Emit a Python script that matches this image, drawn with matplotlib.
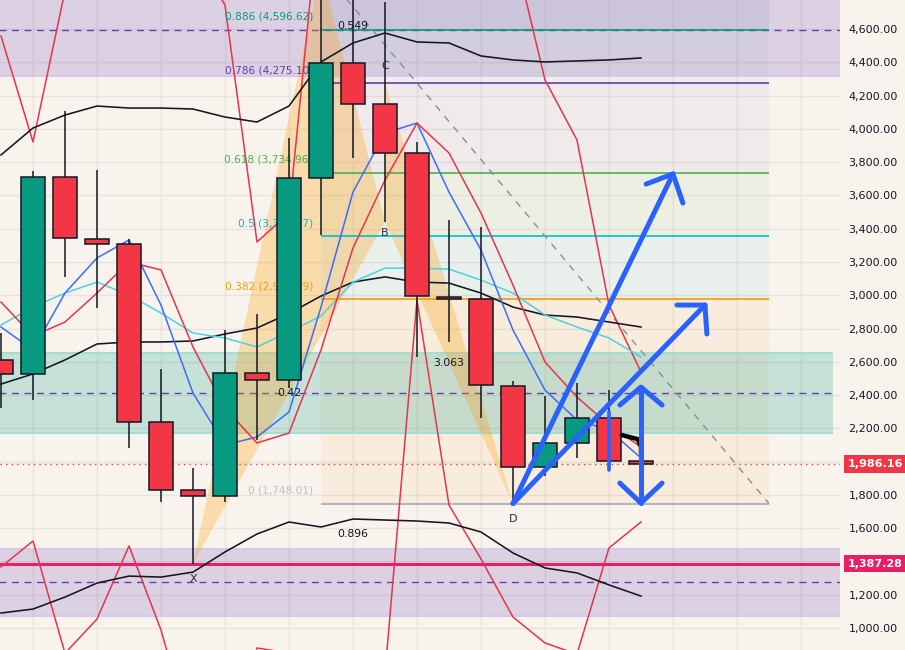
import matplotlib
matplotlib.use("Agg")
import matplotlib.pyplot as plt
import matplotlib.transforms as mtransforms
from matplotlib.patches import Rectangle, Polygon
from matplotlib.ticker import FuncFormatter

# ---------------- data ----------------
bars = list(range(21))
opens  = [2610, 2527, 3710, 3340, 3310, 2238, 1828, 1793, 2530, 2490, 3704,
          4396, 4150, 3855, 2990, 2978, 2455, 1968, 2112, 2262, 2004]
closes = [2525, 3710, 3344, 3305, 2238, 1830, 1795, 2532, 2490, 3704, 4396,
          4150, 3855, 2995, 2978, 2460, 1968, 2112, 2262, 2004, 1986.16]
highs  = [2770, 3748, 4110, 3750, 3335, 2557, 1962, 2790, 2887, 3945, 4800,
          4800, 4760, 3920, 3450, 3410, 2484, 2394, 2473, 2430, 2028]
lows   = [2322, 2370, 3110, 2925, 2080, 1757, 1387.28, 1757, 2130, 2440, 3360,
          3825, 3440, 2628, 2718, 2262, 1748.01, 1914, 2022, 1974, 1974]

bb_upper = [3843, 4005, 4083, 4137, 4125, 4125, 4119, 4071, 4041, 4137, 4402,
            4516, 4576, 4522, 4516, 4438, 4414, 4402, 4408, 4414, 4426]
bb_mid   = [2466, 2527, 2611, 2707, 2719, 2719, 2725, 2767, 2803, 2890, 2995,
            3079, 3110, 3079, 3073, 3013, 2929, 2881, 2869, 2839, 2809]
bb_lower = [1090, 1114, 1186, 1270, 1312, 1306, 1336, 1457, 1565, 1637, 1607,
            1655, 1649, 1643, 1631, 1577, 1451, 1361, 1331, 1259, 1192]
ma_blue  = [2809, 2671, 3013, 3224, 3332, 2941, 2412, 2100, 2148, 2298, 2929,
            3620, 3975, 4035, 3620, 3272, 2791, 2430, 2250, 2190, 2022]
ma_cyan  = [2821, 2929, 3013, 3079, 3001, 2893, 2773, 2743, 2689, 2779, 2875,
            3079, 3163, 3163, 3157, 3091, 3013, 2881, 2809, 2743, 2629]
ma_red   = [2959, 2755, 2839, 3013, 3200, 3152, 2689, 2322, 2112, 2172, 2671,
            3284, 3692, 4035, 3855, 3494, 3061, 2599, 2388, 2220, 2088]
env_upper = [4558, 3921, 4830, 4972, 4907, 5316, 5075, 4744, 3320, 3494, 5424,
             6000, 6660, 5099, 5971, 5573, 5100, 4294, 3933, 2941, 2539]
env_lower = [1367, 1523, 848, 1054, 1493, 988, 303, -100, 880, 850, -82,
             568, 724, 2971, 1739, 1415, 1066, 910, 843, 1481, 1637]

# Fibonacci retracement (drawn from A to D)
fib_start, fib_end = 10, 24
fib_low, fib_high = 1748.01, 4963.14
fib_levels = [0, 0.382, 0.5, 0.618, 0.786, 0.886, 1]
fib_colors = ['#b2b5be', '#ff9800', '#00bcd4', '#4caf50', '#673ab7', '#089981', '#7e93b0']
fib_alpha  = [None, 0.07, 0.06, 0.06, 0.05, 0.04, 0.16]

# XABCD pattern
pat_x = [6, 10, 12, 12, 16]
pat_p = [1387.28, 4963.14, 3440, 4275, 1748.01]
pat_names = ['X', 'A', 'B', 'C', 'D']
pat_ratios = [('0.42', 0, 2), ('0.549', 1, 3), ('3.063', 2, 4), ('0.896', 0, 4)]

# rectangles (zones): (bottom, top, right bar or None, fill, alpha, edge)
zones = [(4318, 4874, None, '#673ab7', 0.19, '#d5c8e8'),
         (1072, 1475, None, '#673ab7', 0.19, '#d5c8e8'),
         (2172, 2653, 26.0, '#009688', 0.20, '#a3ded5')]

support_price = 1387.28
last_price = 1986.16

# user drawings (bar, price)
arrow_up_1 = [(16, 1748.01), (21.0, 3729)]
arrow_up_1_head = [(20.16, 3668), (21.0, 3729), (21.31, 3554)]
arrow_up_2 = [(16, 1748.01), (22.0, 2941)]
arrow_up_2_head = [(21.125, 2941), (22.0, 2941), (22.06, 2767)]
arrow_v = [(20, 2448), (20, 1751)]
arrow_v_head_top = [(19.34, 2340), (20, 2448), (20.66, 2340)]
arrow_v_head_bot = [(19.34, 1871), (20, 1751), (20.66, 1871)]
blue_tick = [(19, 1950), (19, 2298)]
black_hook = [(19.4, 2160), (19.9, 2135), (20.0, 2090), (20.0, 2052)]

tick_prices = [1000, 1200, 1600, 1800, 2200, 2400, 2600, 2800, 3000, 3200,
               3400, 3600, 3800, 4000, 4200, 4400, 4600]
grid_prices = list(range(1000, 4800, 200))
grid_bars = list(range(1, 27, 2))

# ---------------- figure ----------------
BG = '#f8f4ed'
INK = '#131722'
fig = plt.figure(figsize=(9.05, 6.5), dpi=100, facecolor=BG)
ax = fig.add_axes([0, 0, 840 / 905, 1])
ax.set_facecolor(BG)
ax.set_xlim(-0.03125, 26.22)
ax.set_ylim(867.8, 4774.3)
for s in ax.spines.values():
    s.set_visible(False)

for b in grid_bars:
    ax.axvline(b, color='#e7e3dd', lw=1, zorder=0)
for p in grid_prices:
    ax.axhline(p, color='#e7e3dd', lw=1, zorder=0)

ax.yaxis.tick_right()
ax.set_yticks(tick_prices)
ax.yaxis.set_major_formatter(FuncFormatter(lambda v, _: f"{v:,.2f}"))
ax.tick_params(axis='y', length=0, pad=6, labelsize=8, labelcolor=INK)
ax.set_xticks([])

# fib fills, lines, labels
fib_prices = [fib_low + l * (fib_high - fib_low) for l in fib_levels]
for k in range(1, len(fib_levels)):
    ax.add_patch(Rectangle((fib_start, fib_prices[k - 1]), fib_end - fib_start,
                           fib_prices[k] - fib_prices[k - 1], fc=fib_colors[k],
                           alpha=fib_alpha[k], ec='none', zorder=1))
for k in range(len(fib_levels) - 1):
    ax.hlines(fib_prices[k], fib_start, fib_end, colors=fib_colors[k],
              lw=1.2 if k else 1.5, zorder=3)
    ax.annotate(f"{fib_levels[k]:g} ({fib_prices[k]:,.2f})", xy=(fib_start, fib_prices[k]),
                xytext=(-8, 13), textcoords='offset pixels', ha='right', va='center',
                color=fib_colors[k], fontsize=7.6, zorder=4.5,
                alpha=0.85 if k == 0 else 1)

# zones
xl = ax.get_xlim()
for lo, hi, right, fc, a, ec in zones:
    r = right if right is not None else xl[1] + 1
    ax.add_patch(Rectangle((xl[0] - 1, lo), r - xl[0] + 1, hi - lo, fc=fc, alpha=a,
                           ec='none', zorder=2))
    ax.hlines([lo, hi], xl[0] - 1, r, colors=ec, lw=1.5, zorder=2.1)
    ax.hlines((lo + hi) / 2, xl[0] - 1, r, colors='#673ab7', lw=1,
              linestyles=(0, (5, 4)), zorder=2.2)

# fib trend line
ax.plot([fib_start, fib_end], [fib_high, fib_low], color='#8a8d96', lw=1,
        ls=(0, (5, 5)), zorder=3)

# harmonic triangles
ax.add_patch(Polygon(list(zip(pat_x[0:3], pat_p[0:3])), closed=True, fc='#ff9800',
                     alpha=0.27, ec='none', zorder=2.5))
ax.add_patch(Polygon(list(zip(pat_x[2:5], pat_p[2:5])), closed=True, fc='#ff9800',
                     alpha=0.27, ec='none', zorder=2.5))

# support + last price lines
ax.axhline(support_price, color='#e91e63', lw=2.2, zorder=3.5)
ax.axhline(last_price, color='#f23645', lw=1, ls=(0, (1, 3)), zorder=3.5)

# indicators
ax.plot(bars, env_upper, color='#e5344c', lw=1.1, zorder=4)
ax.plot(bars, env_lower, color='#e5344c', lw=1.1, zorder=4)
ax.plot(bars, bb_upper, color=INK, lw=1.15, zorder=4)
ax.plot(bars, bb_mid, color=INK, lw=1.15, zorder=4)
ax.plot(bars, bb_lower, color=INK, lw=1.15, zorder=4)
ax.plot(bars, ma_cyan, color='#4dd0e1', lw=1.1, zorder=4)
ax.plot(bars, ma_blue, color='#3a6dff', lw=1.1, zorder=4)
ax.plot(bars, ma_red, color='#e5344c', lw=1.1, zorder=4)

# candles
for b, o, c, h, l in zip(bars, opens, closes, highs, lows):
    ax.vlines(b, l, h, color=INK, lw=1.1, zorder=5)
    col = '#089981' if c >= o else '#f23645'
    ax.add_patch(Rectangle((b - 0.37, min(o, c)), 0.74, max(abs(c - o), 8), fc=col,
                           ec=INK, lw=1.1, zorder=5.5))

# pattern labels
name_off = {'X': -15, 'A': 14, 'B': -11, 'C': 17, 'D': -15}
for n, bx, bp in zip(pat_names, pat_x, pat_p):
    ax.annotate(n, xy=(bx, bp), xytext=(0, name_off[n]), textcoords='offset pixels',
                ha='center', va='center', color='#2a2e39', fontsize=8, zorder=6)
for txt, i, j in pat_ratios:
    mx = (pat_x[i] + pat_x[j]) / 2
    my = (pat_p[i] + pat_p[j]) / 2
    ax.text(mx, my, txt, ha='center', va='center', color=INK, fontsize=7.8, zorder=6)

# drawings
BLUE = '#2962ff'
def draw(pts, lw=3.6):
    ax.plot([p[0] for p in pts], [p[1] for p in pts], color=BLUE, lw=lw,
            solid_capstyle='round', solid_joinstyle='round', zorder=7)
for pts in [arrow_up_1, arrow_up_1_head, arrow_up_2, arrow_up_2_head, arrow_v,
            arrow_v_head_top, arrow_v_head_bot]:
    draw(pts)
draw(blue_tick, lw=2.6)
ax.plot([p[0] for p in black_hook], [p[1] for p in black_hook], color='#000000', lw=3.2,
        solid_capstyle='round', solid_joinstyle='round', zorder=6.5)

# price tags on axis
trans = mtransforms.blended_transform_factory(ax.transAxes, ax.transData)
for val, colr in [(last_price, '#f23645'), (support_price, '#e91e63')]:
    ax.text(1.0 + 8 / 840, val, f"{val:,.2f}", transform=trans, ha='left', va='center',
            color='white', fontsize=8, fontweight='bold', clip_on=False, zorder=10,
            bbox=dict(boxstyle='square,pad=0.35', fc=colr, ec='none'))

fig.savefig('out.png', dpi=100, facecolor=BG)
